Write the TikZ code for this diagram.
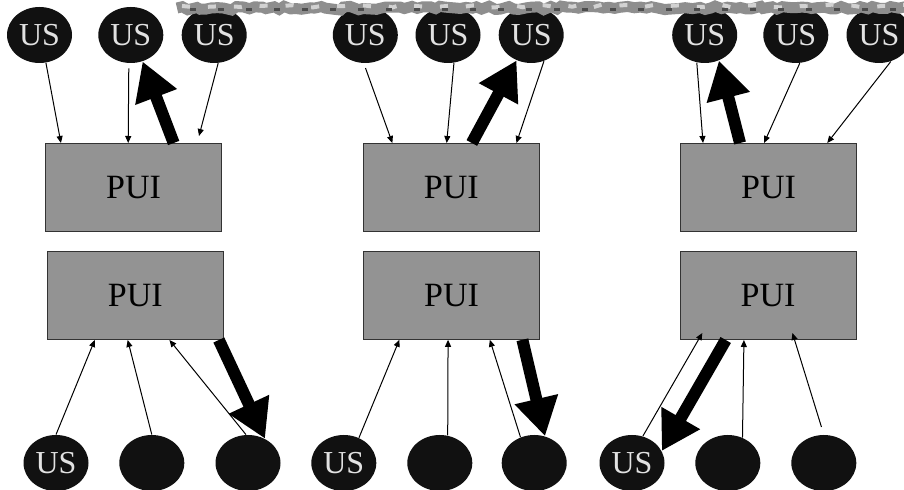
\documentclass[tikz,border=0pt]{standalone}
\usepackage{fontspec}
\setmainfont{Liberation Serif}
\usepackage{xcolor}
\usepackage{tikz}
\usetikzlibrary{arrows.meta,calc,shapes.geometric,decorations.pathmorphing}
\definecolor{boxgray}{HTML}{939393}
\definecolor{usblack}{HTML}{111111}
\definecolor{uslabel}{HTML}{E2E2E2}
\definecolor{ropegray}{HTML}{8E8E8E}

\begin{document}
\begin{tikzpicture}[x=0.5pt,y=-0.5pt,
    usnode/.style={ellipse,fill=usblack,minimum width=32.5pt,minimum height=28pt,inner sep=0pt,text=uslabel,font=\fontsize{16}{18}\selectfont},
    pui/.style={rectangle,draw=black!80,line width=0.5pt,fill=boxgray,minimum width=88pt,minimum height=44pt,inner sep=0pt,font=\fontsize{17}{19}\selectfont},
    feed/.style={-{Triangle[length=3.5pt,width=3pt]},line width=0.5pt},
    reply/.style={-{Triangle[length=19pt,width=21pt]},line width=6pt},
    rope/.style={line width=5.5pt,ropegray,decorate,decoration={random steps,segment length=3pt,amplitude=1pt}}]
    \useasboundingbox (0,0) rectangle (904,490);
    \clip (0,0) rectangle (904,490);

    % PUI boxes
    \node[pui] (p1u) at (133.5,187.5) {PUI};
    \node[pui] (p1d) at (135.3,295.5) {PUI};
    \node[pui] (p2u) at (451.3,187.5) {PUI};
    \node[pui] (p2d) at (451.6,295.3) {PUI};
    \node[pui] (p3u) at (768.5,187.5) {PUI};
    \node[pui] (p3d) at (768,295.5) {PUI};

    % upper users
    \node[usnode] (u1a) at (39.5,35) {US};
    \node[usnode] (u1b) at (130.8,35) {US};
    \node[usnode] (u1c) at (214.2,35) {US};
    \node[usnode] (u2a) at (365.3,35) {US};
    \node[usnode] (u2b) at (448,35) {US};
    \node[usnode] (u2c) at (531.2,35) {US};
    \node[usnode] (u3a) at (704.7,35) {US};
    \node[usnode] (u3b) at (795.8,35) {US};
    \node[usnode] (u3c) at (879,35) {US};

    % lower users
    \node[usnode] (d1a) at (56,463) {US};
    \node[usnode] (d1b) at (151.8,463) {};
    \node[usnode] (d1c) at (248,463) {};
    \node[usnode] (d2a) at (343.8,463) {US};
    \node[usnode] (d2b) at (439.8,463) {};
    \node[usnode] (d2c) at (534.2,463) {};
    \node[usnode] (d3a) at (632,463) {US};
    \node[usnode] (d3b) at (727.8,463) {};
    \node[usnode] (d3c) at (823.8,463) {};

    % requests from the upper users
    \draw[feed] (u1a.-77) -- ($(p1u.north west)!0.09!(p1u.north east)$);
    \draw[feed,shorten <=2.5pt] (u1b.-94) -- ($(p1u.north west)!0.47!(p1u.north east)$);
    \draw[feed] (u1c.-82) -- ($(p1u.north west)!0.87!(p1u.north east)+(0,-7)$);
    \draw[feed,shorten <=2.5pt] (u2a.-93) -- ($(p2u.north west)!0.167!(p2u.north east)$);
    \draw[feed] (u2b.-78) -- ($(p2u.north west)!0.474!(p2u.north east)$);
    \draw[feed] (u2c.-64) -- ($(p2u.north west)!0.868!(p2u.north east)$);
    \draw[feed] (u3a.-106) -- ($(p3u.north west)!0.13!(p3u.north east)$);
    \draw[feed] (u3b.-82) -- ($(p3u.north west)!0.475!(p3u.north east)$);
    \draw[feed] (u3c.-66) -- ($(p3u.north west)!0.832!(p3u.north east)$);

    % requests from the lower users
    \draw[feed] (d1a.90) -- ($(p1d.south west)!0.271!(p1d.south east)$);
    \draw[feed] (d1b.90) -- ($(p1d.south west)!0.457!(p1d.south east)$);
    \draw[feed] (d1c.94) -- ($(p1d.south west)!0.693!(p1d.south east)$);
    \draw[feed] (d2a.59) -- ($(p2d.south west)!0.205!(p2d.south east)$);
    \draw[feed] (d2b.74) -- ($(p2d.south west)!0.48!(p2d.south east)$);
    \draw[feed] (d2c.118) -- ($(p2d.south west)!0.716!(p2d.south east)$);
    \draw[feed] (d3a.68) -- ($(p3d.south west)!0.129!(p3d.south east)+(0,-7)$);
    \draw[feed] (d3b.60) -- ($(p3d.south west)!0.364!(p3d.south east)$);
    \draw[feed,shorten <=4pt] (d3c.90) -- ($(p3d.south west)!0.638!(p3d.south east)+(0,-7)$);

    % answers
    \draw[reply] ($(p1u.north west)!0.727!(p1u.north east)$) -- (u1b.-66);
    \draw[reply] ($(p2u.north west)!0.616!(p2u.north east)$) -- (u2c.-120);
    \draw[reply] ($(p3u.north west)!0.339!(p3u.north east)$) -- (u3a.-61);
    \draw[reply] ($(p1d.south west)!0.972!(p1d.south east)$) -- (d1c.55);
    \draw[reply] ($(p2d.south west)!0.9!(p2d.south east)$) -- (d2c.68);
    \draw[reply] ($(p3d.south west)!0.261!(p3d.south east)$) -- (d3a.22);

    % rope at the top
    \draw[rope] (177,8) -- (910,8);
    \draw[line width=2pt,gray!35,dash pattern=on 4pt off 9pt,decorate,decoration={random steps,segment length=5pt,amplitude=0.8pt}] (182,6) -- (910,6);
    \draw[line width=1.5pt,gray!60!black,dash pattern=on 3pt off 11pt] (190,10) -- (910,10);
\end{tikzpicture}
\end{document}
